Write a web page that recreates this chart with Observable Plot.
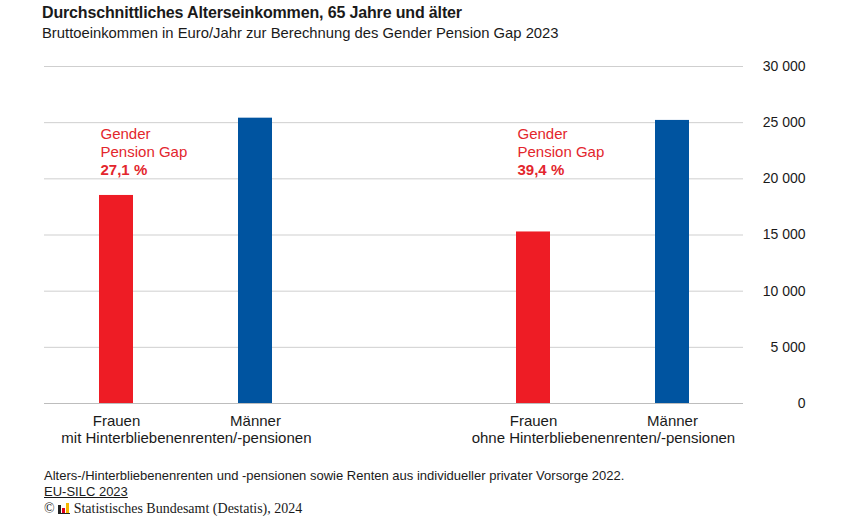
<!DOCTYPE html>
<html>
<head>
<meta charset="utf-8">
<script src="https://cdn.jsdelivr.net/npm/d3@7"></script>
<script src="https://cdn.jsdelivr.net/npm/@observablehq/plot@0.6"></script>
<style>
  body { margin: 0; background: #fff; font-family: "Liberation Sans", Arial, sans-serif; color: #1a1a1a; }
  #wrap { width: 850px; }
  .head { height: 50px; padding-left: 42px; box-sizing: border-box; padding-top: 3px; }
  .title { font-size: 16px; font-weight: bold; line-height: 20px; letter-spacing: -0.15px; }
  .subtitle { font-size: 14.8px; line-height: 20px; }
  .foot { padding-left: 44px; padding-top: 13px; font-size: 13px; line-height: 16px; }
  .src { text-decoration: underline; }
  .copy { font-family: "Liberation Serif", "Times New Roman", serif; font-size: 14px; line-height: 18px; }
  svg { display: block; }
</style>
</head>
<body>
<div id="wrap">
  <div class="head">
    <div class="title">Durchschnittliches Alterseinkommen, 65 Jahre und älter</div>
    <div class="subtitle">Bruttoeinkommen in Euro/Jahr zur Berechnung des Gender Pension Gap 2023</div>
  </div>
  <div id="chart"></div>
  <div class="foot">
    <div>Alters-/Hinterbliebenenrenten und -pensionen sowie Renten aus individueller privater Vorsorge 2022.</div>
    <div class="src">EU-SILC 2023</div>
    <div class="copy">© <svg width="12" height="11" style="display:inline;vertical-align:-1px"><rect x="0" y="2" width="3" height="8" fill="#222"/><rect x="4" y="5" width="3" height="5" fill="#e2001a"/><rect x="8" y="0" width="3" height="10" fill="#f5b800"/><rect x="0" y="10" width="12" height="1" fill="#222"/></svg> Statistisches Bundesamt (Destatis), 2024</div>
  </div>
</div>
<script>
const groups = ["mit Hinterbliebenenrenten/-pensionen", "ohne Hinterbliebenenrenten/-pensionen"];
const sexes = ["Frauen", "Männer"];
const valuesMit = [18520, 25400];
const valuesOhne = [15270, 25200];
const gapLabels = ["27,1 %", "39,4 %"];
const yTicks = [0, 5000, 10000, 15000, 20000, 25000, 30000];

const colors = ["#ee1c25", "#0054a0"];
const red = "#e3262d";

const seriesValues = [valuesMit, valuesOhne];
const data = [];
groups.forEach((g, gi) => sexes.forEach((s, si) => data.push({ key: g + "|" + s, group: g, sex: s, value: seriesValues[gi][si] })));
const spacer = "spacer";
const domain = [data[0].key, data[1].key, spacer, data[2].key, data[3].key];

const W = 850, ML = 44, MR = 107;
const padInner = 0.757, padOuter = padInner / 2;
const step = (W - ML - MR) / domain.length;
const bandwidth = step * (1 - padInner);

const groupLabels = groups.map(g => ({ key: g + "|" + sexes[0], label: g }));
const annots = groups.map((g, i) => ({ key: g + "|" + sexes[0], text: "Gender\nPension Gap", gap: gapLabels[i] }));

const loc = d3.formatLocale({ decimal: ",", thousands: " ", grouping: [3], currency: ["", " €"] });
const fmt = loc.format(",");

const chart = Plot.plot({
  width: W,
  height: 405,
  marginLeft: ML,
  marginRight: MR,
  marginTop: 16,
  marginBottom: 52,
  style: { fontFamily: "'Liberation Sans', Arial, sans-serif", fontSize: "14px", color: "#1a1a1a", background: "#fff" },
  x: { domain, paddingInner: padInner, paddingOuter: padOuter, label: null },
  y: { domain: [0, 30000], label: null },
  color: { domain: sexes, range: colors },
  marks: [
    Plot.gridY(yTicks, { stroke: "#cfcfcf", strokeOpacity: 1 }),
    Plot.ruleY([0], { stroke: "#bdbdbd" }),
    Plot.barY(data, { x: "key", y: "value", fill: "sex" }),
    Plot.axisY({ anchor: "right", ticks: yTicks, tickSize: 0, tickPadding: 62, textAnchor: "end", tickFormat: fmt, label: null, fontSize: 14 }),
    Plot.axisX({ tickSize: 0, tickPadding: 12, tickFormat: d => d === spacer ? "" : d.split("|")[1], label: null, fontSize: 15 }),
    Plot.text(groupLabels, { x: "key", text: "label", frameAnchor: "bottom", dx: step / 2, dy: 39, fontSize: 15, fill: "#1a1a1a" }),
    Plot.text(annots, { x: "key", text: "text", frameAnchor: "top", lineAnchor: "top", textAnchor: "start", dx: -bandwidth / 2 + 1, dy: 59, lineHeight: 1.24, fontSize: 15, fill: red }),
    Plot.text(annots, { x: "key", text: "gap", frameAnchor: "top", lineAnchor: "top", textAnchor: "start", dx: -bandwidth / 2 + 1, dy: 98, fontSize: 15, fontWeight: "bold", fill: red })
  ]
});
document.getElementById("chart").appendChild(chart);
</script>
</body>
</html>
